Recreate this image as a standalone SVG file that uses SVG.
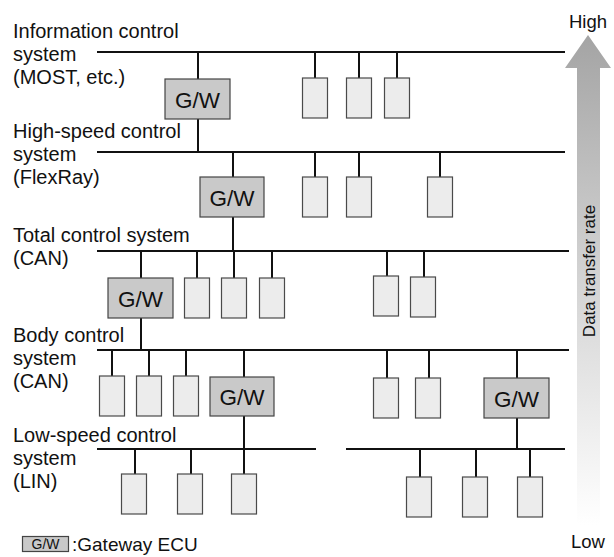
<svg xmlns="http://www.w3.org/2000/svg" width="614" height="557" viewBox="0 0 614 557">
<style>
text{font-family:"Liberation Sans",Arial,sans-serif;fill:#111}
.lbl{font-size:20px}
.bus{stroke:#111;stroke-width:2.2;fill:none}
.stub{stroke:#111;stroke-width:2;fill:none}
.ecu{fill:#ececec;stroke:#4a4a4a;stroke-width:1.2}
.gw{fill:#c9c9c9;stroke:#444;stroke-width:1.2}
.gwt{font-size:22.5px;text-anchor:middle}
</style>
<defs>
<linearGradient id="arr" gradientUnits="userSpaceOnUse" x1="0" y1="35" x2="0" y2="525">
<stop offset="0" stop-color="#a4a4a4"/>
<stop offset="0.45" stop-color="#cfcfcf"/>
<stop offset="1" stop-color="#ffffff"/>
</linearGradient>
</defs>
<rect width="614" height="557" fill="#fff"/>
<g id="axis">
<polygon points="588,35 611,68 600,68 600,525 577,525 577,68 565,68" fill="url(#arr)"/>
<text x="588" y="28" font-size="18.5" text-anchor="middle">High</text>
<text x="588" y="548" font-size="18.5" text-anchor="middle">Low</text>
<text transform="translate(595,271) rotate(-90)" font-size="17" text-anchor="middle">Data transfer rate</text>
</g>
<g id="labels" class="lbl">
<text x="13" y="38">Information control</text>
<text x="13" y="61">system</text>
<text x="13" y="84">(MOST, etc.)</text>
<text x="13" y="138">High-speed control</text>
<text x="13" y="161">system</text>
<text x="13" y="184">(FlexRay)</text>
<text x="13" y="242">Total control system</text>
<text x="13" y="265">(CAN)</text>
<text x="13" y="342">Body control</text>
<text x="13" y="365">system</text>
<text x="13" y="388">(CAN)</text>
<text x="13" y="442">Low-speed control</text>
<text x="13" y="465">system</text>
<text x="13" y="488">(LIN)</text>
</g>
<g id="connectors">
<line class="bus" x1="97" y1="52" x2="565" y2="52"/>
<line class="bus" x1="97" y1="152" x2="565" y2="152"/>
<line class="bus" x1="97" y1="251" x2="569" y2="251"/>
<line class="bus" x1="97" y1="350" x2="569" y2="350"/>
<line class="bus" x1="97" y1="449" x2="316" y2="449"/>
<line class="bus" x1="346" y1="449" x2="565" y2="449"/>
<line class="stub" x1="198" y1="52" x2="198" y2="152"/>
<line class="stub" x1="233" y1="152" x2="233" y2="251"/>
<line class="stub" x1="141" y1="251" x2="141" y2="350"/>
<line class="stub" x1="244" y1="350" x2="244" y2="474"/>
<line class="stub" x1="517" y1="350" x2="517" y2="449"/>
<line class="stub" x1="315" y1="52" x2="315" y2="78"/>
<line class="stub" x1="359" y1="52" x2="359" y2="78"/>
<line class="stub" x1="397" y1="52" x2="397" y2="78"/>
<line class="stub" x1="315" y1="152" x2="315" y2="177"/>
<line class="stub" x1="359" y1="152" x2="359" y2="177"/>
<line class="stub" x1="440" y1="152" x2="440" y2="177"/>
<line class="stub" x1="197" y1="251" x2="197" y2="278"/>
<line class="stub" x1="234" y1="251" x2="234" y2="278"/>
<line class="stub" x1="272" y1="251" x2="272" y2="278"/>
<line class="stub" x1="387" y1="251" x2="387" y2="276"/>
<line class="stub" x1="424" y1="251" x2="424" y2="277"/>
<line class="stub" x1="112" y1="350" x2="112" y2="376"/>
<line class="stub" x1="149" y1="350" x2="149" y2="376"/>
<line class="stub" x1="186" y1="350" x2="186" y2="376"/>
<line class="stub" x1="387" y1="350" x2="387" y2="378"/>
<line class="stub" x1="429" y1="350" x2="429" y2="378"/>
<line class="stub" x1="135" y1="449" x2="135" y2="474"/>
<line class="stub" x1="191" y1="449" x2="191" y2="474"/>
<line class="stub" x1="420" y1="449" x2="420" y2="477"/>
<line class="stub" x1="476" y1="449" x2="476" y2="477"/>
<line class="stub" x1="530" y1="449" x2="530" y2="477"/>
</g>
<g id="gw1"><rect class="gw" x="165" y="79" width="65" height="40"/><text class="gwt" x="197.5" y="107.5">G/W</text></g>
<g id="gw2"><rect class="gw" x="200" y="177" width="64" height="40"/><text class="gwt" x="232" y="205.5">G/W</text></g>
<g id="gw3"><rect class="gw" x="108" y="278" width="65" height="40"/><text class="gwt" x="140.5" y="306.5">G/W</text></g>
<g id="gw4"><rect class="gw" x="210" y="377" width="64" height="39"/><text class="gwt" x="242" y="405">G/W</text></g>
<g id="gw5"><rect class="gw" x="484" y="378" width="65" height="40"/><text class="gwt" x="516.5" y="406.5">G/W</text></g>
<g id="ecu1a"><rect class="ecu" x="302.5" y="78" width="25" height="40"/></g>
<g id="ecu1b"><rect class="ecu" x="346.5" y="78" width="25" height="40"/></g>
<g id="ecu1c"><rect class="ecu" x="384.5" y="78" width="25" height="40"/></g>
<g id="ecu2a"><rect class="ecu" x="302.5" y="177" width="25" height="40"/></g>
<g id="ecu2b"><rect class="ecu" x="346.5" y="177" width="25" height="40"/></g>
<g id="ecu2c"><rect class="ecu" x="427.5" y="177" width="25" height="40"/></g>
<g id="ecu3a"><rect class="ecu" x="184.5" y="278" width="25" height="40"/></g>
<g id="ecu3b"><rect class="ecu" x="221.5" y="278" width="25" height="40"/></g>
<g id="ecu3c"><rect class="ecu" x="259.5" y="278" width="25" height="40"/></g>
<g id="ecu3d"><rect class="ecu" x="373.5" y="276" width="25" height="40"/></g>
<g id="ecu3e"><rect class="ecu" x="410.5" y="277" width="25" height="40"/></g>
<g id="ecu4a"><rect class="ecu" x="99.5" y="376" width="25" height="40"/></g>
<g id="ecu4b"><rect class="ecu" x="136.5" y="376" width="25" height="40"/></g>
<g id="ecu4c"><rect class="ecu" x="173.5" y="376" width="25" height="40"/></g>
<g id="ecu4d"><rect class="ecu" x="373.5" y="378" width="25" height="40"/></g>
<g id="ecu4e"><rect class="ecu" x="415.5" y="378" width="25" height="40"/></g>
<g id="ecu5a"><rect class="ecu" x="121.5" y="474" width="25" height="40"/></g>
<g id="ecu5b"><rect class="ecu" x="177.5" y="474" width="25" height="40"/></g>
<g id="ecu5c"><rect class="ecu" x="231.5" y="474" width="25" height="40"/></g>
<g id="ecu5d"><rect class="ecu" x="406.5" y="477" width="25" height="40"/></g>
<g id="ecu5e"><rect class="ecu" x="462.5" y="477" width="25" height="40"/></g>
<g id="ecu5f"><rect class="ecu" x="517.5" y="477" width="25" height="40"/></g>
<g id="legend">
<rect class="gw" x="22.5" y="536.5" width="46" height="15"/>
<text x="45.5" y="549" font-size="14" text-anchor="middle">G/W</text>
<text x="72" y="551" font-size="19">:Gateway ECU</text>
</g>
</svg>
